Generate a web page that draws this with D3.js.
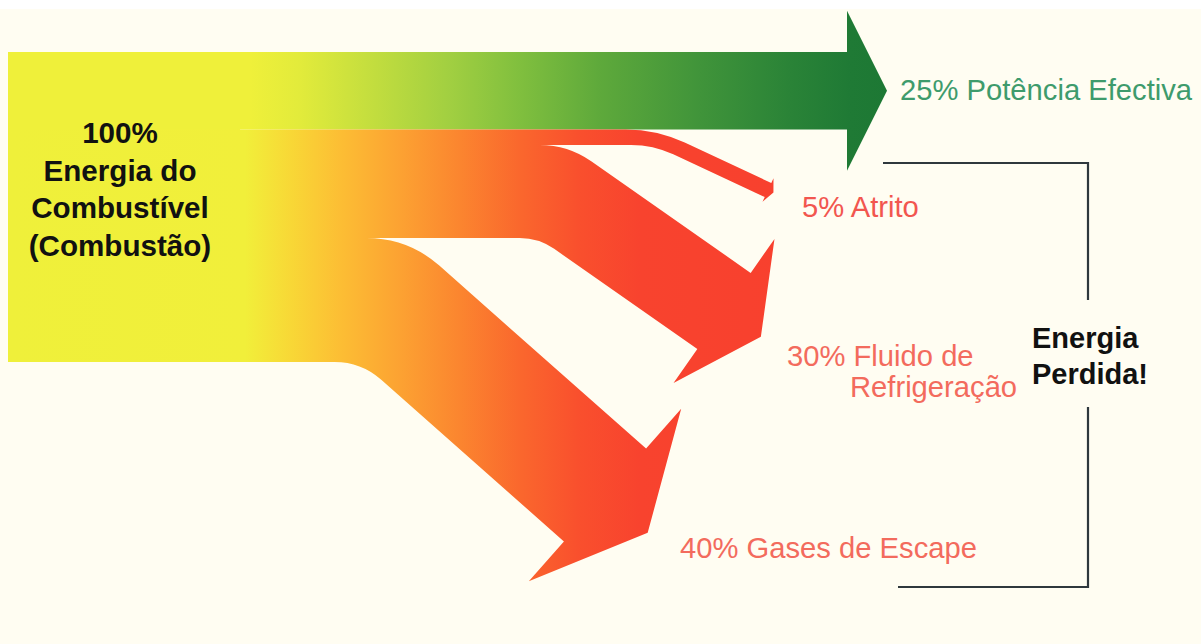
<!DOCTYPE html>
<html>
<head>
<meta charset="utf-8">
<script src="https://cdn.jsdelivr.net/npm/d3@7"></script>
<style>
  html, body { margin: 0; padding: 0; background: #fffdf2; }
  svg { display: block; }
</style>
</head>
<body>
<svg id="chart" width="1201" height="644"></svg>
<script>
// ---- data ----
const flowNames = ["Potência Efectiva", "Atrito", "Fluido de Refrigeração", "Gases de Escape"];
const flowValues = [25, 5, 30, 40];
const flowLabelLines = [["Potência Efectiva"], ["Atrito"], ["Fluido de", "Refrigeração"], ["Gases de Escape"]];
const sourceValue = 100;
const sourceLines = ["Energia do", "Combustível", "(Combustão)"];
const lossLines = ["Energia", "Perdida!"];

// ---- layout ----
const W = 1201, H = 644;
const x0 = 8, yTop = 52;
const thick = d3.scaleLinear().domain([0, sourceValue]).range([0, 310]);

// end of each shaft (centre of the head base), direction, bend radii (upper, lower edge), head half-width / length
const arrowShape = [
  { end: 847, angle: 0, head: [80, 40] },
  { end: [768, 190], angle: 25, r: [140, 100], head: [13, 6] },
  { end: [724, 311], angle: 35, r: [90, 60], head: [88, 45] },
  { end: [605, 495], angle: 41.5, r: [110, 70], head: [115, 57] }
];
const labelPos = [
  { x: 900, y: 100, fill: "#3e9b6c", lh: 0 },
  { x: 802, y: 217, fill: "#f2564f", lh: 0 },
  { x: 787, y: 366, fill: "#f36b5d", lh: 31, dx: [0, 63] },
  { x: 680, y: 558, fill: "#f36b5d", lh: 0 }
];

const font = "'Liberation Sans', Arial, Helvetica, sans-serif";
const svg = d3.select("#chart");

svg.append("rect").attr("width", W).attr("height", H).attr("fill", "#fffdf2");
svg.append("rect").attr("width", W).attr("height", 9).attr("fill", "#ffffff");

// ---- gradients ----
const defs = svg.append("defs");
function gradient(id, xa, xb, stops) {
  const g = defs.append("linearGradient").attr("id", id)
    .attr("gradientUnits", "userSpaceOnUse")
    .attr("x1", xa).attr("x2", xb).attr("y1", 0).attr("y2", 0);
  const off = d3.scaleLinear().domain([xa, xb]).range([0, 1]);
  stops.forEach(([x, c]) => g.append("stop").attr("offset", off(x)).attr("stop-color", c));
}
gradient("gradGreen", x0, 890, [
  [8, "#eff03a"], [250, "#eff03a"], [300, "#e2eb3b"], [370, "#c4de3e"], [450, "#a1cf41"],
  [520, "#80bf3e"], [600, "#5ea93b"], [700, "#40943a"], [790, "#2a8337"], [850, "#1f7a35"], [890, "#1d7834"]
]);
gradient("gradRed", x0, 800, [
  [8, "#eff03a"], [245, "#f1ef3a"], [290, "#f8d836"], [340, "#fcbe34"], [400, "#fca232"],
  [460, "#fb852f"], [520, "#fa672d"], [580, "#f94f2d"], [640, "#f8432e"], [800, "#f8402e"]
]);

// ---- stacking on the source side ----
const cum = d3.cumsum(flowValues);
const flows = flowValues.map((v, i) => {
  const top = yTop + thick(cum[i] - v);
  return { name: flowNames[i], value: v, top, bot: top + thick(v), shape: arrowShape[i], i };
});

// source block underneath the flows
svg.append("rect")
  .attr("x", x0).attr("y", yTop)
  .attr("width", 232).attr("height", thick(sourceValue))
  .attr("fill", "#eff03a");

function straightArrow(f) {
  const s = f.shape, cy = (f.top + f.bot) / 2;
  const [hh, hl] = s.head;
  const p = d3.path();
  p.moveTo(x0, f.top);
  p.lineTo(s.end, f.top);
  p.lineTo(s.end, cy - hh);
  p.lineTo(s.end + hl, cy);
  p.lineTo(s.end, cy + hh);
  p.lineTo(s.end, f.bot);
  p.lineTo(x0, f.bot);
  p.closePath();
  return p.toString();
}

function bentArrow(f) {
  const s = f.shape, top = f.top, bot = f.bot, w = bot - top;
  const a = s.angle * Math.PI / 180;
  const d = [Math.cos(a), Math.sin(a)];
  const nu = [Math.sin(a), -Math.cos(a)];
  const E = s.end;
  const at = (k) => [E[0] + k * nu[0], E[1] + k * nu[1]];
  const nU = at(w / 2), nL = at(-w / 2);
  const bU = at(s.head[0]), bL = at(-s.head[0]);
  const tip = [E[0] + s.head[1] * d[0], E[1] + s.head[1] * d[1]];
  const cU = [nU[0] - (nU[1] - top) / Math.tan(a), top];
  const cL = [nL[0] - (nL[1] - bot) / Math.tan(a), bot];
  const p = d3.path();
  p.moveTo(x0, top);
  p.arcTo(cU[0], cU[1], nU[0], nU[1], s.r[0]);
  p.lineTo(nU[0], nU[1]);
  p.lineTo(bU[0], bU[1]);
  p.lineTo(tip[0], tip[1]);
  p.lineTo(bL[0], bL[1]);
  p.lineTo(nL[0], nL[1]);
  p.arcTo(cL[0], cL[1], x0, bot, s.r[1]);
  p.lineTo(x0, bot);
  p.closePath();
  return p.toString();
}

svg.append("g").selectAll("path")
  .data(flows)
  .join("path")
  .attr("d", f => f.shape.angle === 0 ? straightArrow(f) : bentArrow(f))
  .attr("fill", f => f.i === 0 ? "url(#gradGreen)" : "url(#gradRed)");

// ---- flow labels ----
const labels = svg.append("g").attr("font-family", font).attr("font-size", 29.2);
flows.forEach((f, i) => {
  const lp = labelPos[i];
  const t = labels.append("text").attr("fill", lp.fill);
  flowLabelLines[i].forEach((line, j) => {
    t.append("tspan")
      .attr("x", lp.x + (lp.dx ? lp.dx[j] : 0))
      .attr("y", lp.y + j * lp.lh)
      .text(j === 0 ? `${f.value}% ${line}` : line);
  });
});

// ---- source label ----
const src = svg.append("text")
  .attr("font-family", font).attr("font-size", 29.6).attr("font-weight", "bold")
  .attr("fill", "#111").attr("text-anchor", "middle");
[`${sourceValue}%`, ...sourceLines].forEach((line, j) => {
  src.append("tspan").attr("x", 120).attr("y", 143 + j * 37.5).text(line);
});

// ---- bracket grouping the losses ----
const bx = 1088;
const bracket = d3.path();
bracket.moveTo(883, 163); bracket.lineTo(bx, 163); bracket.lineTo(bx, 300);
bracket.moveTo(bx, 407); bracket.lineTo(bx, 587); bracket.lineTo(898, 587);
svg.append("path").attr("d", bracket.toString())
  .attr("fill", "none").attr("stroke", "#2f383d").attr("stroke-width", 2.2);

const loss = svg.append("text")
  .attr("font-family", font).attr("font-size", 29).attr("font-weight", "bold")
  .attr("fill", "#111");
lossLines.forEach((line, j) => {
  loss.append("tspan").attr("x", 1032).attr("y", 348 + j * 36).text(line);
});
</script>
</body>
</html>
